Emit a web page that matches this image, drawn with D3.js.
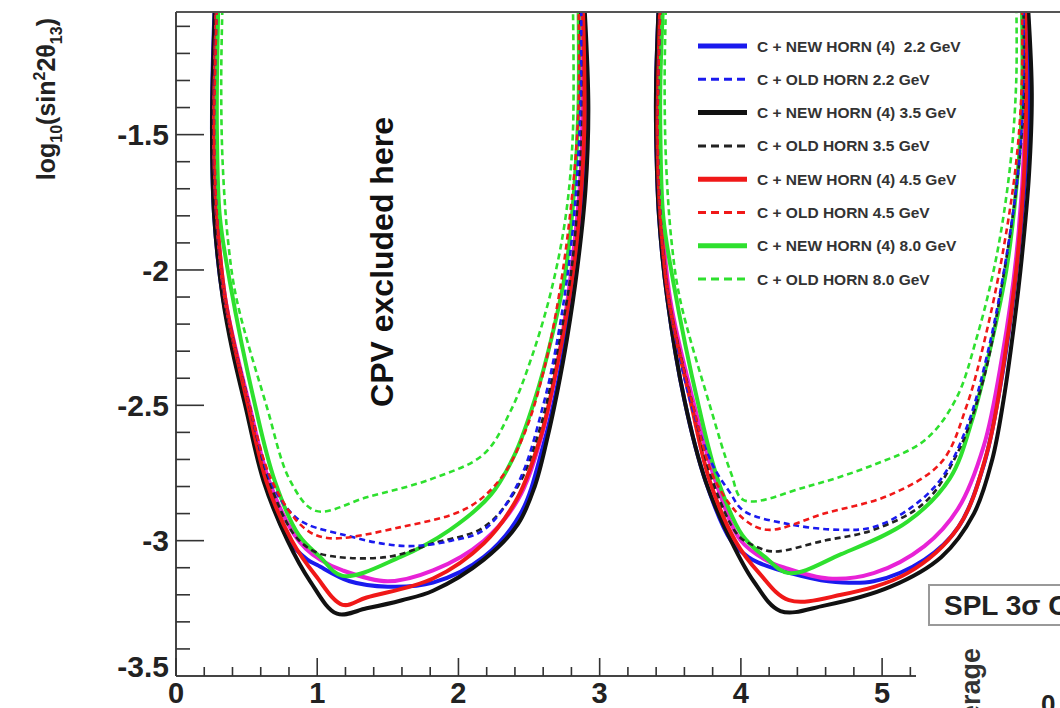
<!DOCTYPE html>
<html>
<head>
<meta charset="utf-8">
<title>SPL 3 sigma CPV</title>
<style>
  body { margin: 0; background: #fff; }
  svg { display: block; }
  text { font-family: "Liberation Sans", Arial, Helvetica, sans-serif; }
</style>
</head>
<body>
<div id="chart"></div>
<script src="https://d3js.org/d3.v7.min.js"></script>
<script>
// tick values
var xTicks = [0, 1, 2, 3, 4, 5];
var yTicks = [-3.5, -3, -2.5, -2, -1.5];

// curves: [delta_CP, log10(sin^2 2theta13)], lobe a (0..pi) and lobe b (pi..2pi)
var newHorn22_a = [[0.275,-1.0],[0.258,-1.3],[0.255,-1.5],[0.27,-1.8],[0.335,-2.11],[0.5,-2.5],[0.63,-2.78],[0.8,-3.0],[0.93,-3.07],[1.0,-3.09],[1.23,-3.15],[1.5,-3.17],[1.82,-3.155],[2.18,-3.06],[2.44,-2.9],[2.6,-2.65],[2.71,-2.4],[2.8,-2.1],[2.87,-1.8],[2.9,-1.5],[2.9,-1.25],[2.88,-1.0]];
var newHorn22_b = [[3.42,-1.0],[3.40,-1.3],[3.40,-1.5],[3.42,-1.8],[3.48,-2.11],[3.6,-2.48],[3.75,-2.78],[3.93,-3.0],[4.05,-3.06],[4.12,-3.08],[4.35,-3.12],[4.62,-3.15],[4.94,-3.15],[5.3,-3.07],[5.54,-2.95],[5.72,-2.72],[5.84,-2.42],[5.93,-2.1],[6.0,-1.75],[6.04,-1.4],[6.03,-1.0]];
var oldHorn22_a = [[0.29,-1.0],[0.275,-1.3],[0.27,-1.5],[0.29,-1.8],[0.35,-2.11],[0.52,-2.5],[0.67,-2.78],[0.82,-2.9],[0.93,-2.94],[1.2,-2.98],[1.45,-3.01],[1.68,-3.02],[1.95,-3.0],[2.18,-2.96],[2.42,-2.79],[2.6,-2.5],[2.72,-2.2],[2.81,-1.85],[2.86,-1.45],[2.87,-1.0]];
var oldHorn22_b = [[3.43,-1.0],[3.415,-1.3],[3.41,-1.5],[3.43,-1.8],[3.49,-2.11],[3.65,-2.5],[3.8,-2.72],[3.92,-2.82],[4.02,-2.89],[4.35,-2.94],[4.71,-2.96],[4.94,-2.95],[5.2,-2.88],[5.42,-2.77],[5.6,-2.58],[5.75,-2.3],[5.88,-1.95],[5.97,-1.6],[6.0,-1.3],[6.0,-1.0]];
var newHorn35_a = [[0.277,-1.0],[0.26,-1.3],[0.255,-1.5],[0.27,-1.8],[0.333,-2.11],[0.40,-2.3],[0.49,-2.5],[0.62,-2.78],[0.79,-3.0],[0.95,-3.15],[1.14,-3.27],[1.35,-3.25],[1.6,-3.22],[1.82,-3.185],[2.18,-3.07],[2.42,-2.94],[2.54,-2.8],[2.63,-2.62],[2.7,-2.45],[2.77,-2.25],[2.84,-2.0],[2.9,-1.7],[2.92,-1.4],[2.89,-1.0]];
var newHorn35_b = [[3.42,-1.0],[3.40,-1.3],[3.40,-1.5],[3.42,-1.8],[3.48,-2.11],[3.6,-2.48],[3.75,-2.78],[3.93,-3.0],[4.09,-3.15],[4.28,-3.26],[4.59,-3.24],[5.06,-3.17],[5.42,-3.06],[5.65,-2.9],[5.78,-2.7],[5.86,-2.48],[5.93,-2.22],[5.99,-1.95],[6.04,-1.65],[6.06,-1.35],[6.03,-1.0]];
var oldHorn35_a = [[0.285,-1.0],[0.27,-1.3],[0.265,-1.5],[0.285,-1.8],[0.345,-2.11],[0.52,-2.5],[0.66,-2.78],[0.84,-2.98],[0.98,-3.04],[1.14,-3.06],[1.5,-3.06],[1.82,-3.01],[2.18,-2.95],[2.42,-2.8],[2.58,-2.58],[2.7,-2.3],[2.8,-2.0],[2.86,-1.6],[2.87,-1.3],[2.86,-1.0]];
var oldHorn35_b = [[3.43,-1.0],[3.415,-1.3],[3.41,-1.5],[3.43,-1.8],[3.49,-2.11],[3.66,-2.5],[3.8,-2.78],[3.98,-2.98],[4.1,-3.02],[4.23,-3.04],[4.59,-3.0],[4.94,-2.96],[5.3,-2.86],[5.54,-2.67],[5.72,-2.4],[5.85,-2.05],[5.95,-1.7],[6.0,-1.4],[6.0,-1.0]];
var newHorn45_a = [[0.29,-1.0],[0.275,-1.3],[0.27,-1.5],[0.29,-1.8],[0.35,-2.11],[0.51,-2.5],[0.64,-2.78],[0.82,-3.0],[0.99,-3.13],[1.18,-3.237],[1.35,-3.21],[1.82,-3.14],[2.18,-3.01],[2.42,-2.84],[2.58,-2.62],[2.68,-2.4],[2.77,-2.15],[2.84,-1.88],[2.89,-1.5],[2.88,-1.0]];
var newHorn45_b = [[3.43,-1.0],[3.415,-1.3],[3.41,-1.5],[3.43,-1.8],[3.49,-2.11],[3.65,-2.5],[3.78,-2.78],[3.96,-3.0],[4.13,-3.12],[4.34,-3.22],[4.71,-3.2],[5.18,-3.12],[5.54,-2.95],[5.74,-2.68],[5.86,-2.35],[5.95,-2.0],[6.01,-1.6],[6.02,-1.3],[6.01,-1.0]];
var oldHorn45_a = [[0.29,-1.0],[0.275,-1.3],[0.27,-1.5],[0.29,-1.8],[0.35,-2.11],[0.52,-2.5],[0.68,-2.78],[0.9,-2.95],[1.07,-2.99],[1.59,-2.95],[2.06,-2.88],[2.3,-2.77],[2.47,-2.6],[2.6,-2.38],[2.71,-2.1],[2.8,-1.75],[2.85,-1.4],[2.85,-1.0]];
var oldHorn45_b = [[3.43,-1.0],[3.415,-1.3],[3.41,-1.5],[3.43,-1.8],[3.49,-2.11],[3.66,-2.5],[3.82,-2.78],[4.02,-2.92],[4.19,-2.96],[4.59,-2.9],[5.06,-2.83],[5.42,-2.71],[5.6,-2.5],[5.73,-2.25],[5.85,-1.95],[5.95,-1.6],[5.99,-1.3],[5.99,-1.0]];
var newHorn80_a = [[0.30,-1.0],[0.29,-1.3],[0.29,-1.5],[0.31,-1.8],[0.38,-2.04],[0.56,-2.5],[0.7,-2.78],[0.87,-2.98],[1.02,-3.06],[1.18,-3.13],[1.59,-3.06],[1.94,-2.96],[2.23,-2.83],[2.4,-2.68],[2.54,-2.48],[2.66,-2.25],[2.76,-2.0],[2.82,-1.7],[2.85,-1.4],[2.85,-1.0]];
var newHorn80_b = [[3.45,-1.0],[3.43,-1.3],[3.43,-1.5],[3.45,-1.8],[3.52,-2.04],[3.7,-2.5],[3.84,-2.78],[4.01,-2.98],[4.17,-3.06],[4.34,-3.12],[4.71,-3.05],[5.18,-2.93],[5.48,-2.77],[5.64,-2.55],[5.77,-2.28],[5.88,-2.0],[5.95,-1.7],[5.99,-1.4],[5.99,-1.0]];
var oldHorn80_a = [[0.33,-1.0],[0.32,-1.3],[0.33,-1.6],[0.37,-1.9],[0.43,-2.11],[0.64,-2.5],[0.81,-2.78],[0.99,-2.89],[1.35,-2.84],[1.82,-2.77],[2.18,-2.68],[2.37,-2.52],[2.52,-2.32],[2.66,-2.07],[2.76,-1.8],[2.81,-1.5],[2.81,-1.0]];
var oldHorn80_b = [[3.47,-1.0],[3.46,-1.3],[3.47,-1.6],[3.51,-1.9],[3.57,-2.11],[3.78,-2.5],[3.93,-2.75],[4.02,-2.85],[4.47,-2.8],[4.94,-2.72],[5.3,-2.63],[5.52,-2.48],[5.67,-2.25],[5.81,-1.95],[5.91,-1.6],[5.95,-1.3],[5.95,-1.0]];
// magenta curve, not in the legend
var extra_a = [[0.29,-1.0],[0.275,-1.3],[0.27,-1.5],[0.29,-1.8],[0.35,-2.11],[0.52,-2.5],[0.66,-2.78],[0.84,-2.98],[0.92,-3.03],[1.02,-3.07],[1.18,-3.11],[1.5,-3.15],[1.82,-3.11],[2.18,-3.0],[2.42,-2.85],[2.58,-2.63],[2.7,-2.35],[2.8,-2.0],[2.87,-1.6],[2.87,-1.0]];
var extra_b = [[3.44,-1.0],[3.425,-1.3],[3.42,-1.5],[3.44,-1.8],[3.5,-2.11],[3.67,-2.5],[3.82,-2.78],[4.0,-3.0],[4.17,-3.07],[4.31,-3.1],[4.62,-3.14],[4.94,-3.12],[5.3,-3.02],[5.54,-2.88],[5.72,-2.65],[5.85,-2.32],[5.95,-1.95],[6.01,-1.5],[6.01,-1.0]];

var legendLabels = [
  "C + NEW HORN (4)  2.2 GeV",
  "C + OLD HORN 2.2 GeV",
  "C + NEW HORN (4) 3.5 GeV",
  "C + OLD HORN 3.5 GeV",
  "C + NEW HORN (4) 4.5 GeV",
  "C + OLD HORN 4.5 GeV",
  "C + NEW HORN (4) 8.0 GeV",
  "C + OLD HORN 8.0 GeV"
];

var blue = "#1a1aee", black = "#111", red = "#f01818", green = "#2ee02e", magenta = "#e822d6";

// draw order: solid first, dashed on top
var series = [
  {a: newHorn22_a, b: newHorn22_b, color: blue, dashed: false},
  {a: newHorn35_a, b: newHorn35_b, color: black, dashed: false},
  {a: extra_a, b: extra_b, color: magenta, dashed: false},
  {a: newHorn45_a, b: newHorn45_b, color: red, dashed: false},
  {a: newHorn80_a, b: newHorn80_b, color: green, dashed: false},
  {a: oldHorn35_a, b: oldHorn35_b, color: "#222", dashed: true},
  {a: oldHorn22_a, b: oldHorn22_b, color: blue, dashed: true},
  {a: oldHorn45_a, b: oldHorn45_b, color: red, dashed: true},
  {a: oldHorn80_a, b: oldHorn80_b, color: green, dashed: true}
];
var legendStyles = [
  {color: blue, dashed: false}, {color: blue, dashed: true},
  {color: black, dashed: false}, {color: "#222", dashed: true},
  {color: red, dashed: false}, {color: red, dashed: true},
  {color: green, dashed: false}, {color: green, dashed: true}
];

var width = 1060, height = 708;
var svg = d3.select("#chart").append("svg")
    .attr("width", width)
    .attr("height", height);

var x = d3.scaleLinear().domain([0, 5.24]).range([176, 916]);
var y = d3.scaleLinear().domain([-3.5, -1.047]).range([676, 12]);

svg.append("clipPath").attr("id", "plotclip")
  .append("rect").attr("x", 176).attr("y", 12).attr("width", 900).attr("height", 664);

var line = d3.line()
    .x(function(d) { return x(d[0]); })
    .y(function(d) { return y(d[1]); })
    .curve(d3.curveCatmullRom.alpha(0.5));

var curves = svg.append("g").attr("clip-path", "url(#plotclip)");
series.forEach(function(s) {
  [s.a, s.b].forEach(function(pts) {
    curves.append("path")
      .attr("d", line(pts))
      .attr("fill", "none")
      .attr("stroke", s.color)
      .attr("stroke-width", s.dashed ? 2.6 : 4)
      .attr("stroke-dasharray", s.dashed ? "6,4" : null)
      .attr("stroke-linejoin", "round");
  });
});

// frame top line
svg.append("line")
  .attr("x1", 176).attr("x2", width).attr("y1", 12).attr("y2", 12)
  .attr("stroke", "#555").attr("stroke-width", 2);

// y axis, ticks inside
var yAxis = svg.append("g");
yAxis.append("line").attr("x1", 176).attr("x2", 176).attr("y1", 12).attr("y2", 676)
  .attr("stroke", "#444").attr("stroke-width", 2);
d3.range(-3.5, -1.04, 0.1).forEach(function(v) {
  var major = Math.abs(v * 2 - Math.round(v * 2)) < 1e-6;
  yAxis.append("line")
    .attr("x1", 176).attr("x2", 176 + (major ? 28 : 14))
    .attr("y1", y(v)).attr("y2", y(v))
    .attr("stroke", "#333").attr("stroke-width", 1.6);
});
yTicks.forEach(function(v) {
  yAxis.append("text")
    .attr("x", 169).attr("y", v === -3.5 ? y(v) - 10 : y(v))
    .attr("dy", "0.36em")
    .attr("text-anchor", "end")
    .attr("font-size", 30).attr("font-weight", "bold")
    .attr("fill", "#222")
    .text(String(v));
});

// x axis, ticks inside
var xAxis = svg.append("g");
xAxis.append("line").attr("x1", 176).attr("x2", 916).attr("y1", 676).attr("y2", 676)
  .attr("stroke", "#444").attr("stroke-width", 2);
d3.range(0, 5.25, 0.2).forEach(function(v) {
  var major = Math.abs(v - Math.round(v)) < 1e-6;
  xAxis.append("line")
    .attr("x1", x(v)).attr("x2", x(v))
    .attr("y1", 676).attr("y2", 676 - (major ? 18 : 9))
    .attr("stroke", "#333").attr("stroke-width", 1.6);
});
xTicks.forEach(function(v) {
  xAxis.append("text")
    .attr("x", x(v)).attr("y", 703)
    .attr("text-anchor", "middle")
    .attr("font-size", 29).attr("font-weight", "bold")
    .attr("fill", "#222")
    .text(v);
});

// y axis title
var yt = svg.append("text")
  .attr("transform", "translate(55,18) rotate(-90)")
  .attr("text-anchor", "end")
  .attr("font-size", 25).attr("font-weight", "bold")
  .attr("fill", "#222");
yt.append("tspan").text("log");
yt.append("tspan").attr("font-size", 16).attr("dy", 7).text("10");
yt.append("tspan").attr("dy", -7).text("(sin");
yt.append("tspan").attr("font-size", 16).attr("dy", -10).text("2");
yt.append("tspan").attr("dy", 10).text("2\u03b8");
yt.append("tspan").attr("font-size", 16).attr("dy", 7).text("13");
yt.append("tspan").attr("dy", -7).text(")");

// label inside the first lobe
svg.append("text")
  .attr("transform", "translate(393,262) rotate(-90)")
  .attr("text-anchor", "middle")
  .attr("font-size", 32).attr("font-weight", "bold")
  .attr("fill", "#111")
  .text("CPV excluded here");

// legend
var legend = svg.append("g");
legendLabels.forEach(function(lbl, i) {
  var ly = 46 + i * 33.3;
  var st = legendStyles[i];
  legend.append("line")
    .attr("x1", 698).attr("x2", 747).attr("y1", ly).attr("y2", ly)
    .attr("stroke", st.color)
    .attr("stroke-width", st.dashed ? 3 : 5)
    .attr("stroke-dasharray", st.dashed ? "8,5" : null);
  legend.append("text")
    .attr("x", 757).attr("y", ly).attr("dy", "0.36em")
    .attr("font-size", 15.5).attr("font-weight", "bold")
    .attr("fill", "#333")
    .style("white-space", "pre")
    .text(lbl);
});

// title box, cut by the right edge
svg.append("rect")
  .attr("x", 929).attr("y", 585).attr("width", 200).attr("height", 40)
  .attr("fill", "#fff").attr("stroke", "#999").attr("stroke-width", 2);
svg.append("text")
  .attr("x", 944).attr("y", 615)
  .attr("font-size", 28).attr("font-weight", "bold")
  .attr("fill", "#222")
  .text("SPL 3\u03c3 CPV");

// neighbouring panel, mostly off the picture
svg.append("text")
  .attr("transform", "translate(980,648) rotate(-90)")
  .attr("text-anchor", "end")
  .attr("font-size", 27).attr("font-weight", "bold")
  .attr("fill", "#333")
  .text("Coverage");
svg.append("text")
  .attr("x", 1041).attr("y", 713)
  .attr("font-size", 26).attr("font-weight", "bold")
  .attr("fill", "#222")
  .text("0");
</script>
</body>
</html>
